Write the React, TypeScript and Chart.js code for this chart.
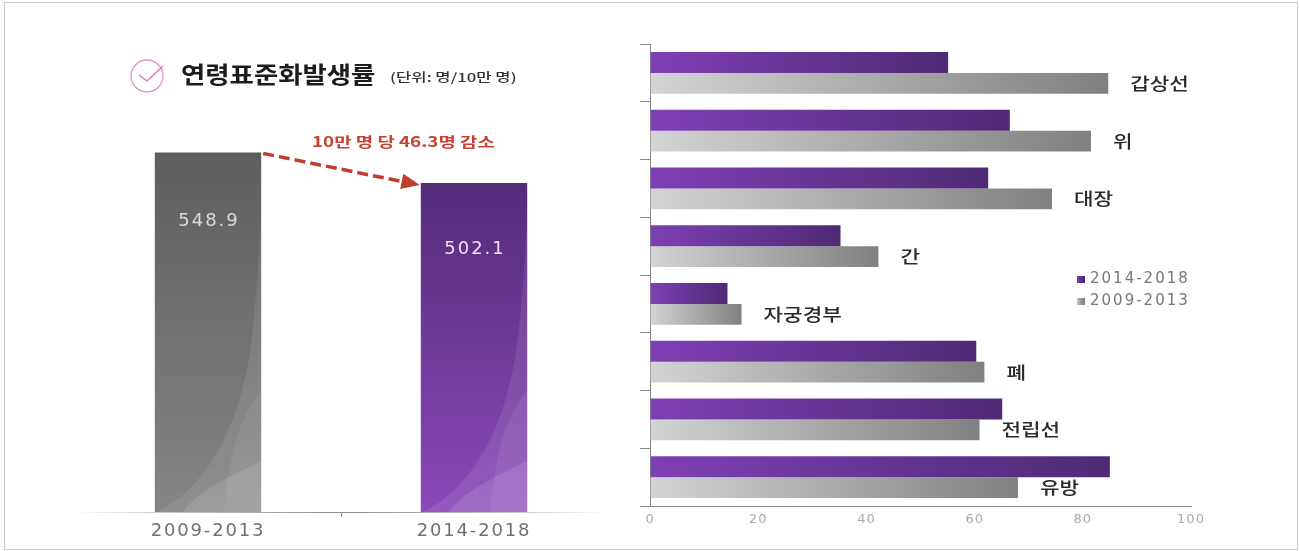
import React, { useEffect, useRef } from "react";
import { Chart, registerables } from "chart.js";

Chart.register(...registerables);

const FONT_KR = '"Noto Sans CJK KR", "Noto Sans", sans-serif';
const FONT_NUM = '"DejaVu Sans", sans-serif';

// Age-standardised incidence, all cancers
const periods = ["2009-2013", "2014-2018"];
const totalRates = [548.9, 502.1];
const totalLabels = ["548.9", "502.1"];
const changeNote = "10만 명 당 46.3명 감소";
const titleText = "연령표준화발생률";
const unitText = "(단위: 명/10만 명)";

// Rates by cancer site
const sites = ["갑상선", "위", "대장", "간", "자궁경부", "폐", "전립선", "유방"];
const recentRates = [55.1, 66.5, 62.5, 35.2, 14.3, 60.3, 65.1, 85.0];
const earlierRates = [84.7, 81.5, 74.3, 42.2, 16.9, 61.8, 60.9, 68.0];
const recentName = "2014-2018";
const earlierName = "2009-2013";
const axisTicks = [0, 20, 40, 60, 80, 100];

const barShades = [
  ["#5e5e5e", "#858585"],
  ["#552b7a", "#8b49b9"],
];

// The Hangul in this design is set wider than its natural proportions
function wideText(ctx: CanvasRenderingContext2D, text: string, x: number, y: number, sx: number) {
  ctx.save();
  ctx.translate(x, y);
  ctx.scale(sx, 1);
  ctx.fillText(text, 0, 0);
  ctx.restore();
}

// Tracks out the axis numerals; applied per draw since resizing resets the context
const trackingPlugin = (spacing: string) => ({
  id: "tracking",
  beforeDraw(chart: any) {
    chart.ctx.letterSpacing = spacing;
  },
});

// Pale translucent swooshes in the lower right of each column
const swooshPlugin = {
  id: "swoosh",
  afterDatasetsDraw(chart: any) {
    const { ctx } = chart;
    chart.getDatasetMeta(0).data.forEach((bar: any) => {
      const l = bar.x - bar.width / 2;
      const w = bar.width;
      const b = bar.base;
      const px = (u: number) => l + u * w;
      ctx.save();
      ctx.beginPath();
      ctx.rect(l, bar.y, w, b - bar.y);
      ctx.clip();
      ctx.fillStyle = "rgba(255,255,255,0.09)";
      ctx.beginPath();
      ctx.moveTo(px(0.02), b);
      ctx.bezierCurveTo(px(0.45), b - 22, px(0.82), b - 80, px(0.92), b - 181);
      ctx.bezierCurveTo(px(0.96), b - 220, px(0.98), b - 260, px(1), b - 295);
      ctx.lineTo(px(1), b);
      ctx.closePath();
      ctx.fill();
      ctx.fillStyle = "rgba(255,255,255,0.11)";
      ctx.beginPath();
      ctx.moveTo(px(0.27), b);
      ctx.bezierCurveTo(px(0.33), b - 12, px(0.5), b - 26, px(1), b - 51);
      ctx.lineTo(px(1), b);
      ctx.closePath();
      ctx.fill();
      ctx.fillStyle = "rgba(255,255,255,0.07)";
      ctx.beginPath();
      ctx.moveTo(px(0.65), b);
      ctx.bezierCurveTo(px(0.69), b - 50, px(0.78), b - 95, px(1), b - 121);
      ctx.lineTo(px(1), b);
      ctx.closePath();
      ctx.fill();
      ctx.restore();
    });
  },
};

// Heading, value labels and the dashed arrow between the two columns
const annotationPlugin = {
  id: "annotation",
  afterDraw(chart: any) {
    const { ctx } = chart;
    const bars = chart.getDatasetMeta(0).data;

    ctx.save();
    (ctx as any).letterSpacing = "0px";
    ctx.textBaseline = "middle";
    ctx.textAlign = "left";
    ctx.fillStyle = "#1c1c1c";
    ctx.font = `bold 23px ${FONT_KR}`;
    wideText(ctx, titleText, 181, 74, 1.148);
    ctx.font = `500 12px ${FONT_KR}`;
    ctx.fillStyle = "#333";
    wideText(ctx, unitText, 390, 77, 1.39);

    // check mark icon
    ctx.strokeStyle = "#de96c4";
    ctx.lineWidth = 1.3;
    ctx.beginPath();
    ctx.arc(147, 76, 16, 0, Math.PI * 2);
    ctx.stroke();
    ctx.strokeStyle = "#c77ab0";
    ctx.beginPath();
    ctx.moveTo(139, 75);
    ctx.lineTo(147, 81);
    ctx.lineTo(163, 66);
    ctx.stroke();

    bars.forEach((bar: any, i: number) => {
      ctx.textAlign = "center";
      ctx.fillStyle = i === 0 ? "#d8d8d8" : "#eee2f6";
      ctx.font = `18px ${FONT_NUM}`;
      (ctx as any).letterSpacing = "2px";
      ctx.fillText(totalLabels[i], bar.x + 1, bar.y + (i === 0 ? 69 : 66));
      (ctx as any).letterSpacing = "0px";
    });

    ctx.textAlign = "left";
    ctx.fillStyle = "#c8412f";
    ctx.font = `bold 14px ${FONT_KR}`;
    wideText(ctx, changeNote, 312, 142, 1.345);

    const x0 = bars[0].x + bars[0].width / 2 + 2;
    const y0 = bars[0].y + 1;
    const x1 = bars[1].x - bars[1].width / 2 - 1;
    const y1 = bars[1].y + 2;
    const ang = Math.atan2(y1 - y0, x1 - x0);
    ctx.strokeStyle = "#bf3f2d";
    ctx.fillStyle = "#bf3f2d";
    ctx.lineWidth = 3.5;
    ctx.setLineDash([11, 5]);
    ctx.beginPath();
    ctx.moveTo(x0, y0);
    ctx.lineTo(x1 - 15 * Math.cos(ang), y1 - 15 * Math.sin(ang));
    ctx.stroke();
    ctx.setLineDash([]);
    ctx.beginPath();
    ctx.moveTo(x1, y1);
    ctx.lineTo(x1 - 20 * Math.cos(ang - 0.4), y1 - 20 * Math.sin(ang - 0.4));
    ctx.lineTo(x1 - 20 * Math.cos(ang + 0.4), y1 - 20 * Math.sin(ang + 0.4));
    ctx.closePath();
    ctx.fill();
    ctx.restore();
  },
};

// Site names sit just past the end of each lower bar, plus the small key
const siteLabelPlugin = {
  id: "siteLabels",
  afterDraw(chart: any) {
    const { ctx } = chart;
    const origin = chart.canvas.getBoundingClientRect().left;
    ctx.save();
    (ctx as any).letterSpacing = "0px";
    ctx.textBaseline = "middle";
    ctx.textAlign = "left";
    ctx.fillStyle = "#2a2a2a";
    ctx.font = `500 17px ${FONT_KR}`;
    chart.getDatasetMeta(1).data.forEach((bar: any, i: number) => {
      wideText(ctx, sites[i], bar.x + 22, bar.y, 1.25);
    });

    const keyX = 1077 - origin;
    const entries = [
      { name: recentName, y: 279, from: "#7a3bad", to: "#4f2a75" },
      { name: earlierName, y: 301, from: "#c4c4c4", to: "#808080" },
    ];
    ctx.font = `15px ${FONT_NUM}`;
    (ctx as any).letterSpacing = "2px";
    entries.forEach((e) => {
      const g = ctx.createLinearGradient(keyX, 0, keyX + 7, 0);
      g.addColorStop(0, e.from);
      g.addColorStop(1, e.to);
      ctx.fillStyle = g;
      ctx.fillRect(keyX, e.y - 3, 8, 7);
      ctx.fillStyle = "#777";
      ctx.fillText(e.name, keyX + 13, e.y);
    });
    ctx.restore();
  },
};

function horizontalFill(from: string, to: string) {
  return (c: any) => {
    const { chart, raw } = c;
    const xs = chart.scales.x;
    const end = xs && raw !== undefined ? xs.getPixelForValue(raw) : NaN;
    if (!Number.isFinite(end) || !Number.isFinite(xs.left)) return to;
    const g = chart.ctx.createLinearGradient(xs.left, 0, end, 0);
    g.addColorStop(0, from);
    g.addColorStop(1, to);
    return g;
  };
}

export default function App() {
  const leftRef = useRef<HTMLCanvasElement>(null);
  const rightRef = useRef<HTMLCanvasElement>(null);

  useEffect(() => {
    const leftCtx = leftRef.current!.getContext("2d")!;
    const fade = leftCtx.createLinearGradient(75, 0, 607, 0);
    fade.addColorStop(0, "rgba(150,150,150,0)");
    fade.addColorStop(0.2, "rgba(170,170,170,0.7)");
    fade.addColorStop(0.5, "#888888");
    fade.addColorStop(0.8, "rgba(170,170,170,0.7)");
    fade.addColorStop(1, "rgba(150,150,150,0)");

    const left = new Chart(leftRef.current!, {
      type: "bar",
      data: {
        labels: periods,
        datasets: [
          {
            data: totalRates,
            barPercentage: 0.4,
            categoryPercentage: 1,
            backgroundColor: (c: any) => {
              const { chart, raw, dataIndex } = c;
              const ys = chart.scales.y;
              const top = ys && raw !== undefined ? ys.getPixelForValue(raw) : NaN;
              const bottom = ys ? ys.getPixelForValue(0) : NaN;
              const shades = barShades[dataIndex ?? 0];
              if (!Number.isFinite(top) || !Number.isFinite(bottom)) return shades[0];
              const g = chart.ctx.createLinearGradient(0, top, 0, bottom);
              g.addColorStop(0, shades[0]);
              g.addColorStop(1, shades[1]);
              return g;
            },
          },
        ],
      },
      options: {
        animation: false,
        responsive: false,
        events: [],
        layout: { padding: { left: 75, right: 33, top: 119, bottom: 0 } },
        plugins: { legend: { display: false }, tooltip: { enabled: false } },
        scales: {
          y: { display: false, min: 0, max: 600 },
          x: {
            afterFit: (s: any) => {
              s.height = 39;
            },
            border: { color: fade, width: 1 },
            grid: {
              drawOnChartArea: false,
              offset: true,
              tickLength: 5,
              color: (c: any) => (c.index === 1 ? "#888888" : "rgba(0,0,0,0)"),
            },
            ticks: { color: "#707070", padding: 4, font: { family: "DejaVu Sans", size: 18 } },
          },
        },
      },
      plugins: [trackingPlugin("1.8px"), swooshPlugin, annotationPlugin],
    } as any);

    const right = new Chart(rightRef.current!, {
      type: "bar",
      data: {
        labels: sites,
        datasets: [
          {
            label: recentName,
            data: recentRates,
            barPercentage: 1,
            categoryPercentage: 0.727,
            backgroundColor: horizontalFill("#7f3fb5", "#4f2a75"),
          },
          {
            label: earlierName,
            data: earlierRates,
            barPercentage: 1,
            categoryPercentage: 0.727,
            backgroundColor: horizontalFill("#d4d4d4", "#808080"),
          },
        ],
      },
      options: {
        indexAxis: "y",
        animation: false,
        responsive: false,
        events: [],
        layout: { padding: { left: 0, right: 108, top: 44, bottom: 0 } },
        plugins: { legend: { display: false }, tooltip: { enabled: false } },
        scales: {
          x: {
            min: 0,
            max: 100,
            afterFit: (s: any) => {
              s.height = 45;
            },
            afterBuildTicks: (s: any) => {
              s.ticks = axisTicks.map((value) => ({ value }));
            },
            border: { color: "#888888" },
            grid: { display: true, drawOnChartArea: false, drawTicks: false },
            ticks: { color: "#aaaaaa", padding: 6, maxRotation: 0, font: { family: "DejaVu Sans", size: 13 } },
          },
          y: {
            afterFit: (s: any) => {
              s.width = 10;
            },
            border: { color: "#888888" },
            grid: { drawOnChartArea: false, offset: true, tickLength: 10, color: "#888888" },
            ticks: { display: false },
          },
        },
      },
      plugins: [trackingPlugin("1px"), siteLabelPlugin],
    } as any);

    return () => {
      left.destroy();
      right.destroy();
    };
  }, []);

  return (
    <div style={{ position: "absolute", left: 0, top: 0, width: 1299, height: 551, overflow: "hidden", background: "#fff" }}>
      <div style={{ position: "absolute", left: 4, top: 2, width: 1292, height: 546, border: "1px solid #c8c8c8" }} />
      <canvas ref={leftRef} width={640} height={551} style={{ position: "absolute", left: 0, top: 0 }} />
      <canvas ref={rightRef} width={659} height={551} style={{ position: "absolute", left: 640, top: 0 }} />
    </div>
  );
}
